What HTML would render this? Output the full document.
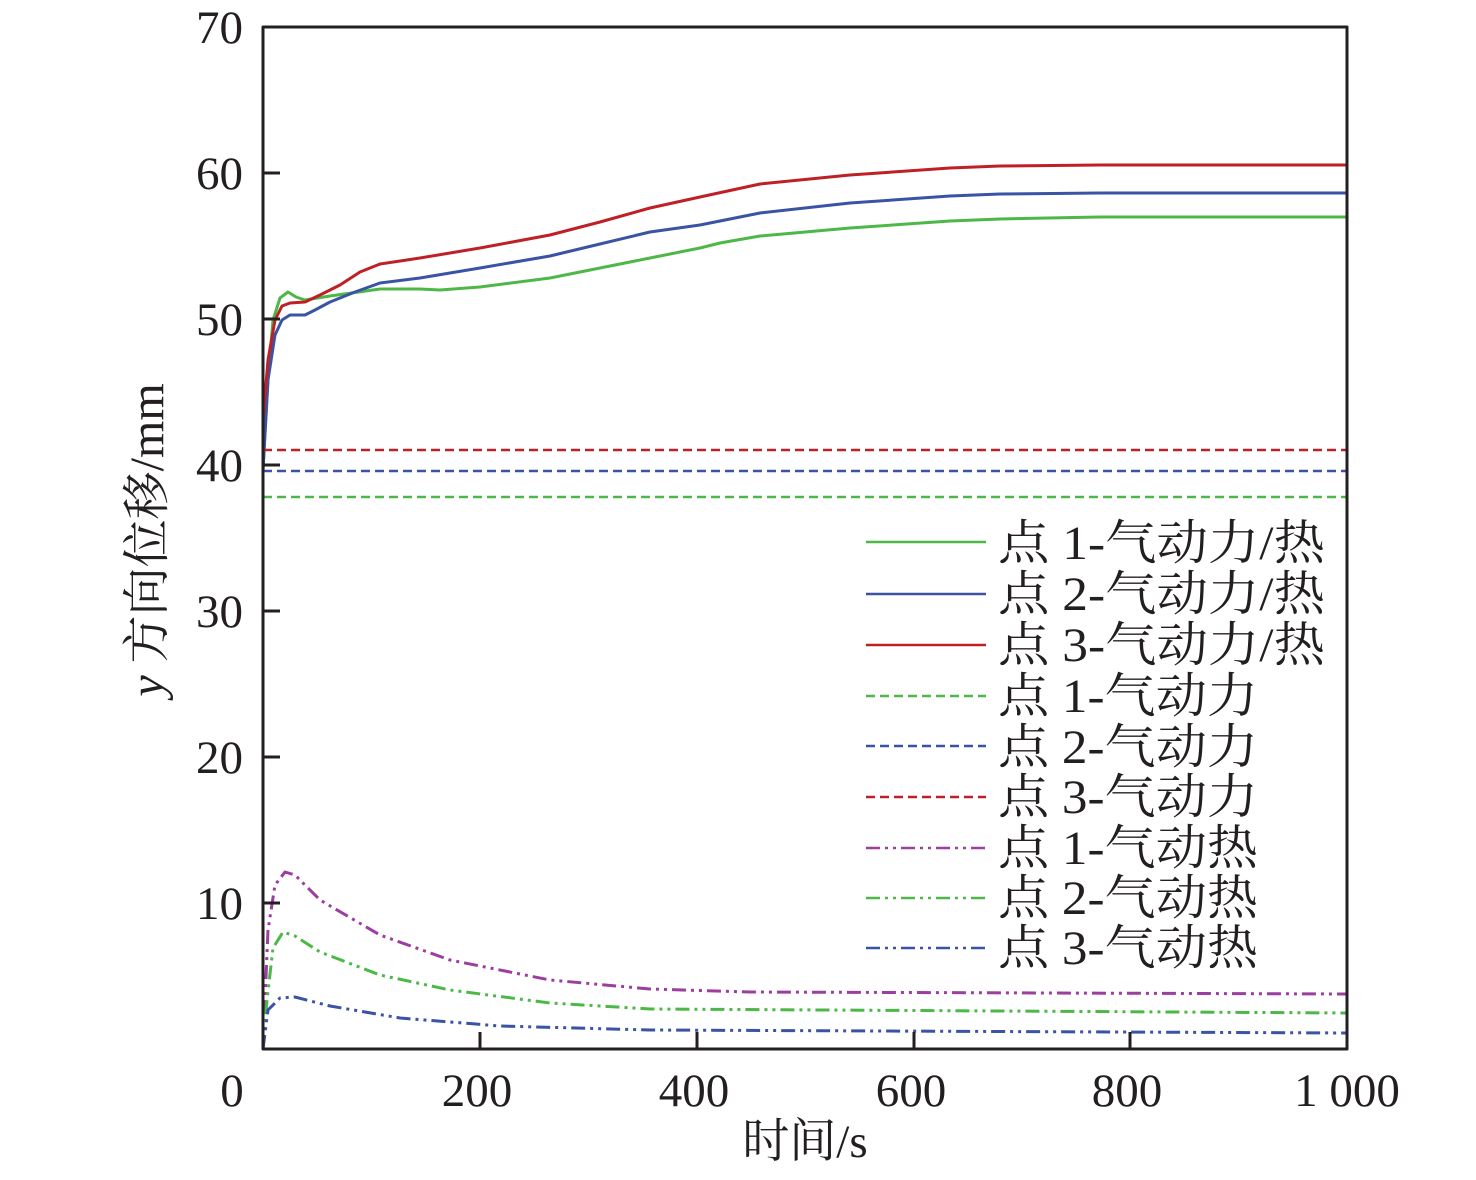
<!DOCTYPE html>
<html><head><meta charset="utf-8"><style>body{margin:0;background:#fff} text{font-family:"Liberation Serif","Noto Serif CJK SC",serif}</style></head>
<body>
<svg width="1476" height="1175" xmlns="http://www.w3.org/2000/svg" fill="#231f20">
<g fill="none" stroke-width="3" stroke-linejoin="round">
<polyline stroke="#4db848" points="263,470 268,380 273,320 280,298 288,292 296,297 305,300 330,296 380,289 420,289 440,290 480,287 550,278 600,268 650,258 700,248 720,243 760,236 850,228 950,221 1000,219 1100,217 1347,217"/>
<polyline stroke="#3a53a4" points="263,470 268,380 275,335 282,320 290,315 305,315 315,310 330,302 355,292 380,283 420,278 480,268 550,256 600,244 650,232 700,225 760,213 850,203 950,196 1000,194 1100,193 1347,193"/>
<polyline stroke="#be2026" points="263,420 268,360 275,320 282,306 290,303 305,302 320,295 340,285 360,272 380,264 420,258 480,248 550,235 600,222 650,208 700,197 760,184 850,175 950,168 1000,166 1100,165 1347,165"/>
<g stroke-width="2.5" stroke-dasharray="9,5">
<line x1="263" y1="450" x2="1347" y2="450" stroke="#be2026"/>
<line x1="263" y1="471" x2="1347" y2="471" stroke="#3a53a4"/>
<line x1="263" y1="497" x2="1347" y2="497" stroke="#4db848"/>
</g>
<g stroke-dasharray="14,5,3,5,3,5">
<polyline stroke="#9b3ea0" points="263,1049 268,930 275,885 285,872 295,875 320,900 380,935 450,960 550,980 650,989 750,992 1347,994"/>
<polyline stroke="#4db848" points="263,1049 267,1000 273,948 283,932 295,936 320,952 380,975 450,990 550,1003 650,1009 1347,1013"/>
<polyline stroke="#3a53a4" points="263,1049 268,1010 280,998 295,997 330,1006 400,1018 500,1026 650,1030 1347,1033"/>
</g>
<rect x="263" y="27" width="1084" height="1022" stroke="#231f20" stroke-width="3"/>
<g stroke="#231f20" stroke-width="3">
<line x1="263" y1="173" x2="280" y2="173"/><line x1="263" y1="319" x2="280" y2="319"/><line x1="263" y1="465" x2="280" y2="465"/><line x1="263" y1="611" x2="280" y2="611"/><line x1="263" y1="757" x2="280" y2="757"/><line x1="263" y1="903" x2="280" y2="903"/>
<line x1="480" y1="1049" x2="480" y2="1032"/><line x1="697" y1="1049" x2="697" y2="1032"/><line x1="914" y1="1049" x2="914" y2="1032"/><line x1="1130" y1="1049" x2="1130" y2="1032"/>
</g>
<g stroke-width="2.5">
<line x1="866" y1="542" x2="986" y2="542" stroke="#4db848"/>
<line x1="866" y1="594" x2="986" y2="594" stroke="#3a53a4"/>
<line x1="866" y1="645" x2="986" y2="645" stroke="#be2026"/>
<g stroke-dasharray="9,5"><line x1="866" y1="696" x2="986" y2="696" stroke="#4db848"/><line x1="866" y1="746" x2="986" y2="746" stroke="#3a53a4"/><line x1="866" y1="797" x2="986" y2="797" stroke="#be2026"/></g>
<g stroke-dasharray="14,5,3,5,3,5"><line x1="866" y1="848" x2="986" y2="848" stroke="#9b3ea0"/><line x1="866" y1="898" x2="986" y2="898" stroke="#4db848"/><line x1="866" y1="948" x2="986" y2="948" stroke="#3a53a4"/></g>
</g>
</g>
<g font-size="47" text-anchor="end">
<text x="243" y="43">70</text><text x="243" y="189">60</text><text x="243" y="335">50</text><text x="243" y="481">40</text><text x="243" y="627">30</text><text x="243" y="773">20</text><text x="243" y="919">10</text>
</g>
<g font-size="47" text-anchor="middle">
<text x="232" y="1106">0</text><text x="477" y="1106">200</text><text x="694" y="1106">400</text><text x="911" y="1106">600</text><text x="1127" y="1106">800</text><text x="1347" y="1106">1 000</text>
<text x="805" y="1157">时间/s</text>
<text transform="translate(163,540) rotate(-90)" font-size="48"><tspan font-style="italic">y</tspan> 方向位移/mm</text>
</g>
<g font-size="48">
<text x="998" y="559" textLength="327" lengthAdjust="spacingAndGlyphs">点 1-气动力/热</text>
<text x="998" y="610" textLength="327" lengthAdjust="spacingAndGlyphs">点 2-气动力/热</text>
<text x="998" y="661" textLength="327" lengthAdjust="spacingAndGlyphs">点 3-气动力/热</text>
<text x="998" y="712" textLength="260" lengthAdjust="spacingAndGlyphs">点 1-气动力</text>
<text x="998" y="763" textLength="260" lengthAdjust="spacingAndGlyphs">点 2-气动力</text>
<text x="998" y="813" textLength="260" lengthAdjust="spacingAndGlyphs">点 3-气动力</text>
<text x="998" y="864" textLength="260" lengthAdjust="spacingAndGlyphs">点 1-气动热</text>
<text x="998" y="914" textLength="260" lengthAdjust="spacingAndGlyphs">点 2-气动热</text>
<text x="998" y="964" textLength="260" lengthAdjust="spacingAndGlyphs">点 3-气动热</text>
</g>
</svg>
</body></html>
